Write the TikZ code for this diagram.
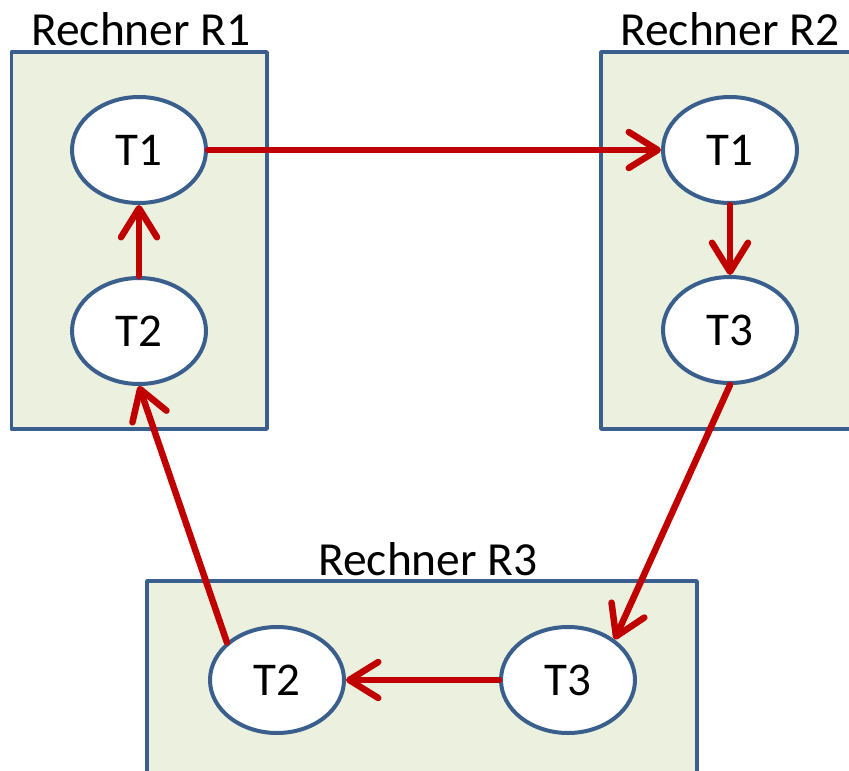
\documentclass[tikz,border=0pt]{standalone}
\usepackage{fontspec}
\setmainfont{Carlito}
\usetikzlibrary{arrows.meta,shapes.geometric}
\definecolor{boxfill}{HTML}{EBF1DE}
\definecolor{boxline}{HTML}{3B5F8D}
\definecolor{arrred}{HTML}{C00000}
\begin{document}
\begin{tikzpicture}[x=1pt,y=-1pt,
  rbox/.style={draw=boxline,fill=boxfill,line width=3.5pt,line join=round,rectangle,inner sep=0pt},
  task/.style={ellipse,draw=boxline,fill=white,line width=4pt,minimum width=134pt,minimum height=106pt,inner sep=0pt,font=\fontsize{47}{56}\selectfont},
  lab/.style={anchor=base,inner sep=0pt,font=\fontsize{47.5}{56}\selectfont},
  flow/.style={draw=arrred,line width=6.5pt,line cap=round,-{Straight Barb[length=29pt,width=36pt,round]}}]
\useasboundingbox (0,0) rectangle (849,771);
\clip (0,0) rectangle (849,771);
\node[rbox,minimum width=255.5pt,minimum height=377pt] (r1) at (139.25,240.5) {};
\node[rbox,minimum width=299pt,minimum height=377pt] (r2) at (750.5,240.5) {};
\node[rbox,minimum width=550pt,minimum height=239pt] (r3) at (422,700.5) {};
\node[lab] (l1) at (141,45) {Rechner R1};
\node[lab] (l2) at (730,45) {Rechner R2};
\node[lab] (l3) at (428,575) {Rechner R3};
\node[task] (a1) at (139,150) {T1};
\node[task] (a2) at (139,331) {T2};
\node[task] (b1) at (730,150) {T1};
\node[task] (b3) at (730,330) {T3};
\node[task] (c2) at (277,680) {T2};
\node[task] (c3) at (568,680) {T3};
\draw[flow] (a1.east) -- (b1.west);
\draw[flow] (b1.south) -- (b3.north);
\draw[flow] (b3.south) -- (c3.41);
\draw[flow] (c3.west) -- (c2.east);
\draw[flow] (c2.143) -- (a2.south);
\draw[flow] (a2.north) -- (a1.south);
\end{tikzpicture}
\end{document}
